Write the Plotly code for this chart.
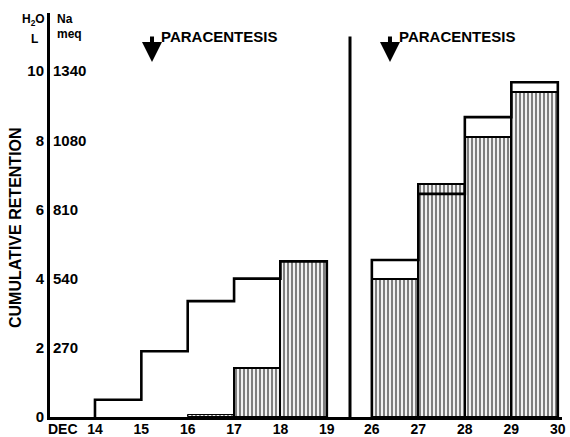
import plotly.graph_objects as go

# ---- data ----
days_left = [14, 15, 16, 17, 18]          # interval start days (Dec)
water_left = [0.5, 1.9, 3.35, 4.0, 4.5]    # H2O cumulative retention, L
na_days_left = [16, 17, 18]
na_left = [0.07, 1.42, 4.5]                # Na retention (in H2O-L scale units)
days_right = [26, 27, 28, 29]
water_right = [4.54, 6.45, 8.67, 9.68]
na_right = [3.99, 6.75, 8.09, 9.39]
tick_days_left = [14, 15, 16, 17, 18, 19]
tick_days_right = [26, 27, 28, 29, 30]
h2o_ticks = [0, 2, 4, 6, 8, 10]
na_tickvals = [2, 4, 6, 8, 10]
na_ticktext = ["270", "540", "810", "1080", "1340"]
paracentesis_days = [15.23, 26.39]

FONT = "Liberation Sans"
BLACK = "black"


def outline(days, vals):
    x = [days[0]] + list(days) + [days[-1] + 1, days[-1] + 1]
    y = [0] + list(vals) + [vals[-1], 0]
    return x, y


pattern = dict(shape="|", size=4, solidity=0.55, fgcolor=BLACK, bgcolor="white")

fig = go.Figure()

fig.add_trace(go.Bar(x=[d + 0.5 for d in na_days_left], y=na_left, width=1,
                     marker=dict(color="white", pattern=pattern,
                                 line=dict(color=BLACK, width=[1, 2, 2])),
                     xaxis="x", yaxis="y"))
fig.add_trace(go.Bar(x=[d + 0.5 for d in days_right], y=na_right, width=1,
                     marker=dict(color="white", pattern=pattern,
                                 line=dict(color=BLACK, width=2)),
                     xaxis="x2", yaxis="y"))

xl, yl = outline(days_left, water_left)
fig.add_trace(go.Scatter(x=xl, y=yl, mode="lines", line_shape="hv",
                         line=dict(color=BLACK, width=2.6), xaxis="x", yaxis="y"))
xr, yr = outline(days_right, water_right)
fig.add_trace(go.Scatter(x=xr, y=yr, mode="lines", line_shape="hv",
                         line=dict(color=BLACK, width=2.6), xaxis="x2", yaxis="y"))
# invisible trace to anchor the Na axis
fig.add_trace(go.Scatter(x=[14], y=[0], mode="markers", marker=dict(opacity=0),
                         xaxis="x", yaxis="y2", hoverinfo="skip"))

split = (350 - 50) / 512
tickfont = dict(family=FONT, size=15, color=BLACK, weight="bold")
xtickfont = dict(family=FONT, size=14, color=BLACK, weight="bold")

fig.update_layout(
    width=570, height=437, autosize=False,
    margin=dict(l=50, r=8, t=13, b=20),
    plot_bgcolor="white", paper_bgcolor="white",
    showlegend=False, bargap=0,
    xaxis=dict(domain=[0, split], range=[13.03, 19.5], tickvals=tick_days_left,
               ticktext=[str(d) for d in tick_days_left], showgrid=False,
               zeroline=False, showline=True, linewidth=3, linecolor=BLACK,
               ticks="", tickfont=xtickfont, anchor="y", ticklabeloverflow="allow",
               ticklabelstandoff=-3, automargin=False),
    xaxis2=dict(domain=[split, 1], range=[25.53, 30.09], tickvals=tick_days_right,
                ticktext=[str(d) for d in tick_days_right], showgrid=False,
                zeroline=False, showline=True, linewidth=3, linecolor=BLACK,
                ticks="", tickfont=xtickfont, anchor="y", ticklabeloverflow="allow",
                ticklabelstandoff=-3, automargin=False),
    yaxis=dict(range=[0, 11.68], tickvals=h2o_ticks,
               ticktext=[str(v) for v in h2o_ticks], showgrid=False,
               zeroline=False, showline=True, linewidth=3, linecolor=BLACK,
               ticks="", tickfont=tickfont, anchor="x", automargin=False),
    yaxis2=dict(range=[0, 11.68], tickvals=na_tickvals, ticktext=na_ticktext,
                overlaying="y", side="left", anchor="x", ticklabelposition="inside",
                ticklabeloverflow="allow", automargin=False,
                showgrid=False, zeroline=False, showline=False, ticks="",
                tickfont=tickfont),
)

# divider line between the two periods
fig.add_shape(type="line", xref="x2 domain", yref="y", x0=0, x1=0, y0=0, y1=11.0,
              line=dict(color=BLACK, width=3))

ann_font = dict(family=FONT, size=15, color=BLACK, weight="bold")
small_font = dict(family=FONT, size=12, color=BLACK, weight="bold")

# paracentesis arrows & labels
for i, d in enumerate(paracentesis_days):
    xref = "x" if i == 0 else "x2"
    fig.add_annotation(x=d, y=10.26, xref=xref, yref="y", text="", showarrow=True,
                       ax=0, ay=-27, arrowhead=2, arrowsize=1, arrowwidth=4,
                       arrowcolor=BLACK)
    fig.add_annotation(x=d + 0.15, y=10.99, xref=xref, yref="y", text="PARACENTESIS",
                       showarrow=False, xanchor="left", yanchor="middle", font=ann_font)


def px_to_paper(px, py):
    return (px - 50) / 512, (417 - py) / 404


for txt, px, py, anchor in [("H<sub>2</sub>O", 46, 20, "right"), ("L", 39, 39, "right"),
                            ("Na", 56, 19, "left"), ("meq", 56, 34, "left")]:
    xp, yp = px_to_paper(px, py)
    fig.add_annotation(x=xp, y=yp, xref="paper", yref="paper", text=txt, showarrow=False,
                       xanchor=anchor, yanchor="middle", font=small_font, borderpad=0)

xp, yp = px_to_paper(15, 228)
fig.add_annotation(x=xp, y=yp, xref="paper", yref="paper", text="CUMULATIVE RETENTION",
                   textangle=-90, showarrow=False, xanchor="center", yanchor="middle",
                   font=dict(family=FONT, size=16, color=BLACK, weight="bold"))
xp, yp = px_to_paper(63, 429)
fig.add_annotation(x=xp, y=yp, xref="paper", yref="paper", text="DEC",
                   showarrow=False, xanchor="center", yanchor="middle", font=xtickfont)

page_js = (
    "var h=document.documentElement,b=document.body;"
    "[h,b].forEach(function(e){e.style.margin='0';e.style.padding='0';"
    "e.style.overflow='hidden';e.style.height='437px';e.style.width='570px';});"
)
fig.write_html("out.html", config={"displayModeBar": False}, post_script=page_js)
